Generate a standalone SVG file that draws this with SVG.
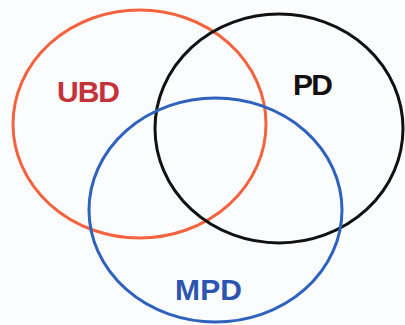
<svg xmlns="http://www.w3.org/2000/svg" width="405" height="325" viewBox="0 0 405 325">
<style>
.ring{fill:none;stroke-width:3}
.lbl{font-family:"Liberation Sans",Arial,sans-serif;font-weight:bold;font-size:30px;text-anchor:middle}
</style>
<rect width="405" height="325" fill="#fbfcfe"/>
<g id="ubd">
<ellipse class="ring" cx="139.5" cy="124" rx="126.5" ry="114" stroke="#f2643f"/>
<text class="lbl" x="88.5" y="102" fill="#c4323a" textLength="63">UBD</text>
</g>
<g id="pd">
<ellipse class="ring" cx="279" cy="128.5" rx="124" ry="114.5" stroke="#111111"/>
<text class="lbl" x="313" y="95" fill="#111111" textLength="40">PD</text>
</g>
<g id="mpd">
<ellipse class="ring" cx="215.5" cy="210" rx="126.5" ry="112" stroke="#2f62bd"/>
<text class="lbl" x="208.5" y="300" fill="#2c55b0" textLength="67">MPD</text>
</g>
<g id="connectors"/>
</svg>
